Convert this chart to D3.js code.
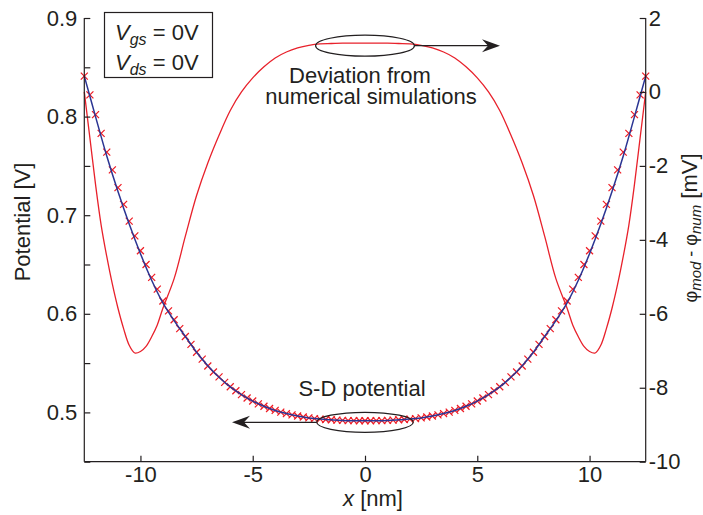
<!DOCTYPE html>
<html>
<head>
<meta charset="utf-8">
<script src="https://cdn.jsdelivr.net/npm/d3@7"></script>
<style>
  body { margin: 0; background: #fff; }
  svg text { font-family: "Liberation Sans", Arial, sans-serif; fill: #231f20; }
</style>
</head>
<body>
<svg id="chart" width="703" height="515"></svg>
<script>
// numerical S-D potential (crosses), x every 0.25 nm
const simX = d3.range(101).map(i => -12.5 + i * 0.25);
const simPot = [
  0.841, 0.822, 0.802, 0.783, 0.764, 0.746, 0.728, 0.711, 0.694, 0.679,
  0.664, 0.650, 0.637, 0.625, 0.613, 0.603, 0.594, 0.585, 0.577, 0.569,
  0.561, 0.554, 0.547, 0.541, 0.536, 0.5305, 0.526, 0.522, 0.518, 0.5146,
  0.5115, 0.5087, 0.5062, 0.504, 0.502, 0.5003, 0.4988, 0.4975, 0.4963, 0.4953,
  0.4944, 0.4937, 0.4932, 0.4928, 0.4925, 0.4922, 0.4919, 0.4917, 0.4916, 0.4915,
  0.4915,
  0.4915, 0.4916, 0.4917, 0.4919, 0.4922, 0.4925, 0.4928, 0.4932, 0.4937, 0.4944,
  0.4953, 0.4963, 0.4975, 0.4988, 0.5003, 0.502, 0.504, 0.5062, 0.5087, 0.5115,
  0.5146, 0.518, 0.522, 0.526, 0.5305, 0.536, 0.541, 0.547, 0.554, 0.561,
  0.569, 0.577, 0.585, 0.594, 0.603, 0.613, 0.625, 0.637, 0.650, 0.664,
  0.679, 0.694, 0.711, 0.728, 0.746, 0.764, 0.783, 0.802, 0.822, 0.841
];

// model potential (blue line), x every 0.5 nm
const modX = d3.range(51).map(i => -12.5 + i * 0.5);
const modPot = [
  0.841, 0.800, 0.760, 0.724, 0.691, 0.661, 0.634, 0.611, 0.593, 0.577,
  0.561, 0.5474, 0.5357, 0.5258, 0.518, 0.5115, 0.5062, 0.502, 0.4988, 0.4963,
  0.4944, 0.4932, 0.4925, 0.4919, 0.4916,
  0.4915,
  0.4916, 0.4919, 0.4925, 0.4932, 0.4944, 0.4963, 0.4988, 0.502, 0.5062, 0.5115,
  0.518, 0.5258, 0.5357, 0.5474, 0.561, 0.577, 0.593, 0.611, 0.634, 0.661,
  0.691, 0.724, 0.760, 0.800, 0.841
];

// deviation phi_mod - phi_num [mV] (red line, right axis)
const devX = [-12.5, -12.25, -12, -11.75, -11.5, -11.25, -11, -10.75, -10.5, -10.25,
  -10, -9.75, -9.5, -9.25, -9, -8.5, -8, -7.5, -7, -6.5, -6, -5.5, -5, -4.5, -4,
  -3.5, -3, -2.5, -2, -1.5, -1, -0.5, 0,
  0.5, 1, 1.5, 2, 2.5, 3, 3.5, 4, 4.5, 5, 5.5, 6, 6.5, 7, 7.5, 8, 8.5, 9, 9.25,
  9.5, 9.75, 10, 10.25, 10.5, 10.75, 11, 11.25, 11.5, 11.75, 12, 12.25, 12.5];
const devMV = [0, -1.25, -2.5, -3.6, -4.45, -5.2, -5.85, -6.4, -6.85, -7.06,
  -7.02, -6.88, -6.62, -6.3, -5.85, -5.05, -3.9, -2.8, -1.92, -1.17, -0.5, 0.0, 0.38, 0.68, 0.92,
  1.08, 1.19, 1.26, 1.30, 1.31, 1.32, 1.32, 1.32,
  1.32, 1.32, 1.31, 1.30, 1.26, 1.19, 1.08, 0.92, 0.68, 0.38, 0.0, -0.5, -1.17, -1.92, -2.8, -3.9, -5.05, -5.85, -6.3,
  -6.62, -6.88, -7.02, -7.06, -6.85, -6.4, -5.85, -5.2, -4.45, -3.6, -2.5, -1.25, 0];

const xTicks = [-10, -5, 0, 5, 10];
const leftTicks = [0.45, 0.5, 0.55, 0.6, 0.65, 0.7, 0.75, 0.8, 0.85, 0.9];
const leftLabels = [0.5, 0.6, 0.7, 0.8, 0.9];
const rightTicks = [-10, -8, -6, -4, -2, 0, 2];

const ink = "#231f20";
const svg = d3.select("#chart");

const x = d3.scaleLinear().domain([-12.5, 12.5]).range([84.3, 645.7]);
const yL = d3.scaleLinear().domain([0.45, 0.9]).range([461.7, 18]);
const yR = d3.scaleLinear().domain([-10, 2]).range([461.7, 18]);

// curves
const devLine = d3.line().x(d => x(d[0])).y(d => yR(d[1])).curve(d3.curveCatmullRom);
svg.append("path")
  .attr("d", devLine(devX.map((v, i) => [v, devMV[i]])))
  .attr("fill", "none").attr("stroke", "#e8212b").attr("stroke-width", 1.3);

const s = 3.5;
svg.append("g").selectAll("path")
  .data(simX.map((v, i) => [v, simPot[i]]))
  .join("path")
  .attr("transform", d => `translate(${x(d[0])},${yL(d[1])})`)
  .attr("d", `M${-s},${-s}L${s},${s}M${-s},${s}L${s},${-s}`)
  .attr("stroke", "#ee1c25").attr("stroke-width", 1.25).attr("fill", "none");

const potLine = d3.line().x(d => x(d[0])).y(d => yL(d[1])).curve(d3.curveCatmullRom);
svg.append("path")
  .attr("d", potLine(modX.map((v, i) => [v, modPot[i]])))
  .attr("fill", "none").attr("stroke", "#2b3593").attr("stroke-width", 1.5);

// axes (ticks inward, no top frame)
const xAxis = d3.axisBottom(x).tickValues(xTicks).tickSize(-6).tickPadding(4.5)
  .tickFormat(d => d < 0 ? "-" + Math.abs(d) : d);
const gx = svg.append("g").attr("transform", `translate(0,${yL.range()[0]})`).call(xAxis);

const leftAxis = d3.axisLeft(yL).tickValues(leftTicks).tickSize(-6).tickPadding(7)
  .tickFormat(d => leftLabels.some(v => Math.abs(v - d) < 1e-9) ? d3.format(".1f")(d) : "");
const gl = svg.append("g").attr("transform", `translate(${x.range()[0]},0)`).call(leftAxis);

const rightAxis = d3.axisRight(yR).tickValues(rightTicks).tickSize(-6).tickPadding(3)
  .tickFormat(d => d < 0 ? "-" + Math.abs(d) : d);
const gr = svg.append("g").attr("transform", `translate(${x.range()[1]},0)`).call(rightAxis);

[gx, gl, gr].forEach(g => {
  g.select(".domain").attr("stroke", ink).attr("stroke-width", 1.2);
  g.selectAll(".tick line").attr("stroke", ink).attr("stroke-width", 1.2);
  g.selectAll(".tick text").attr("font-size", 22).attr("fill", ink)
    .attr("font-family", "Liberation Sans, Arial, sans-serif");
});
gx.select(".domain").attr("d", `M${x.range()[0]},0H${x.range()[1]}`);
gl.select(".domain").attr("d", `M0,${yL.range()[1]}V${yL.range()[0]}`);
gr.select(".domain").attr("d", `M0,${yR.range()[1]}V${yR.range()[0]}`);

// axis labels
const xl = svg.append("text").attr("x", 373).attr("y", 506).attr("text-anchor", "middle").attr("font-size", 22);
xl.append("tspan").attr("font-style", "italic").text("x");
xl.append("tspan").text(" [nm]");

svg.append("text").attr("transform", "translate(30,222) rotate(-90)")
  .attr("text-anchor", "middle").attr("font-size", 22).text("Potential [V]");

const rl = svg.append("text").attr("transform", "translate(697,228) rotate(-90)")
  .attr("text-anchor", "middle").attr("font-size", 22);
rl.append("tspan").attr("font-size", 18).text("φ");
rl.append("tspan").attr("font-size", 15).attr("font-style", "italic").attr("dy", 4).text("mod");
rl.append("tspan").attr("font-size", 18).attr("dy", -4).text(" - φ");
rl.append("tspan").attr("font-size", 15).attr("font-style", "italic").attr("dy", 4).text("num");
rl.append("tspan").attr("dy", -4).text("  [mV]");

// legend box
svg.append("rect").attr("x", 104.5).attr("y", 12.5).attr("width", 108).attr("height", 65)
  .attr("fill", "#fff").attr("stroke", ink).attr("stroke-width", 1.2);
[["gs", 40], ["ds", 70]].forEach(([sub, yy]) => {
  const t = svg.append("text").attr("x", 115).attr("y", yy).attr("font-size", 22);
  t.append("tspan").attr("font-style", "italic").text("V");
  t.append("tspan").attr("font-style", "italic").attr("font-size", 16).attr("dy", 5).text(sub);
  t.append("tspan").attr("dy", -5).text(" = 0V");
});

// annotations
function arrowHead(tx, ty, dir) {
  const L = 18, W = 6.5, N = 12;
  return `M${tx},${ty}L${tx - dir * L},${ty - W}L${tx - dir * N},${ty}L${tx - dir * L},${ty + W}Z`;
}
const topY = yR(1.32) + 2.5;
svg.append("ellipse").attr("cx", x(0)).attr("cy", topY).attr("rx", x(2.2) - x(0)).attr("ry", 10.5)
  .attr("fill", "none").attr("stroke", ink).attr("stroke-width", 1.2);
svg.append("line").attr("x1", x(2.2)).attr("y1", topY).attr("x2", 490).attr("y2", topY)
  .attr("stroke", ink).attr("stroke-width", 1.3);
svg.append("path").attr("d", arrowHead(500, topY, 1)).attr("fill", ink);
svg.append("text").attr("x", 360).attr("y", 83).attr("text-anchor", "middle").attr("font-size", 22).text("Deviation from");
svg.append("text").attr("x", 371).attr("y", 104).attr("text-anchor", "middle").attr("font-size", 22).text("numerical simulations");

const botY = yL(0.4915) + 1.5;
svg.append("ellipse").attr("cx", x(0)).attr("cy", botY).attr("rx", x(2.15) - x(0)).attr("ry", 10)
  .attr("fill", "none").attr("stroke", ink).attr("stroke-width", 1.2);
svg.append("line").attr("x1", x(-2.15)).attr("y1", botY).attr("x2", 242).attr("y2", botY)
  .attr("stroke", ink).attr("stroke-width", 1.3);
svg.append("path").attr("d", arrowHead(232, botY, -1)).attr("fill", ink);
svg.append("text").attr("x", 362).attr("y", 396).attr("text-anchor", "middle").attr("font-size", 22).text("S-D potential");
</script>
</body>
</html>
